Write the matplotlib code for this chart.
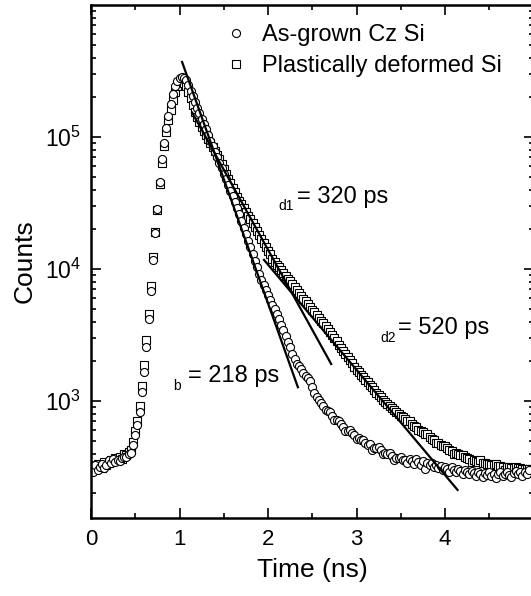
import matplotlib
matplotlib.use("Agg")
import matplotlib.pyplot as plt
from matplotlib.ticker import LogLocator, MultipleLocator, NullFormatter

plt.rcParams['font.family'] = ['Liberation Sans', 'DejaVu Sans']

# time channels (ns)
time_ns = [
    0.000, 0.025, 0.050, 0.075, 0.100, 0.125, 0.150, 0.175, 0.200, 0.225,
    0.250, 0.275, 0.300, 0.325, 0.350, 0.375, 0.400, 0.425, 0.450, 0.475,
    0.500, 0.525, 0.550, 0.575, 0.600, 0.625, 0.650, 0.675, 0.700, 0.725,
    0.750, 0.775, 0.800, 0.825, 0.850, 0.875, 0.900, 0.925, 0.950, 0.975,
    1.000, 1.025, 1.050, 1.075, 1.100, 1.125, 1.150, 1.175, 1.200, 1.225,
    1.250, 1.275, 1.300, 1.325, 1.350, 1.375, 1.400, 1.425, 1.450, 1.475,
    1.500, 1.525, 1.550, 1.575, 1.600, 1.625, 1.650, 1.675, 1.700, 1.725,
    1.750, 1.775, 1.800, 1.825, 1.850, 1.875, 1.900, 1.925, 1.950, 1.975,
    2.000, 2.025, 2.050, 2.075, 2.100, 2.125, 2.150, 2.175, 2.200, 2.225,
    2.250, 2.275, 2.300, 2.325, 2.350, 2.375, 2.400, 2.425, 2.450, 2.475,
    2.500, 2.525, 2.550, 2.575, 2.600, 2.625, 2.650, 2.675, 2.700, 2.725,
    2.750, 2.775, 2.800, 2.825, 2.850, 2.875, 2.900, 2.925, 2.950, 2.975,
    3.000, 3.025, 3.050, 3.075, 3.100, 3.125, 3.150, 3.175, 3.200, 3.225,
    3.250, 3.275, 3.300, 3.325, 3.350, 3.375, 3.400, 3.425, 3.450, 3.475,
    3.500, 3.525, 3.550, 3.575, 3.600, 3.625, 3.650, 3.675, 3.700, 3.725,
    3.750, 3.775, 3.800, 3.825, 3.850, 3.875, 3.900, 3.925, 3.950, 3.975,
    4.000, 4.025, 4.050, 4.075, 4.100, 4.125, 4.150, 4.175, 4.200, 4.225,
    4.250, 4.275, 4.300, 4.325, 4.350, 4.375, 4.400, 4.425, 4.450, 4.475,
    4.500, 4.525, 4.550, 4.575, 4.600, 4.625, 4.650, 4.675, 4.700, 4.725,
    4.750, 4.775, 4.800, 4.825, 4.850, 4.875, 4.900, 4.925, 4.950,
]

# as-grown Cz Si (circles)
counts_asgrown = [
    330, 290, 325, 300, 315, 335, 310, 330, 355, 340,
    365, 345, 360, 350, 372, 380, 378, 395, 407, 468,
    556, 653, 832, 1175, 1660, 2570, 4170, 6760, 11750, 18600,
    28500, 45700, 67600, 90200, 117500, 144000, 178600, 210000, 243000, 266000,
    280000, 286000, 281000, 268000, 248000, 224000, 204000, 184000, 166000, 152000,
    138000, 126000, 114000, 103500, 94000, 85300, 77400, 70300, 63800, 57900,
    52600, 47800, 43400, 39100, 35500, 32200, 29200, 26000, 23200, 20500,
    18300, 16300, 14600, 13000, 11600, 10300, 9180, 8320, 7590, 6920,
    6310, 5780, 5350, 4940, 4570, 4170, 3780, 3430, 3110, 2820,
    2560, 2290, 2070, 1920, 1840, 1740, 1640, 1560, 1490, 1410,
    1270, 1160, 1080, 1020, 973, 923, 850, 841, 830, 776,
    720, 718, 705, 665, 640, 590, 596, 600, 568, 552,
    520, 522, 508, 510, 479, 466, 470, 425, 442, 437,
    445, 422, 400, 407, 398, 405, 383, 360, 372, 367,
    378, 360, 355, 340, 362, 350, 335, 365, 345, 330,
    352, 305, 338, 325, 342, 318, 330, 310, 322, 300,
    315, 305, 292, 318, 300, 288, 305, 295, 282, 300,
    290, 278, 296, 285, 272, 290, 280, 268, 285, 276,
    290, 270, 282, 262, 278, 288, 270, 280, 292, 275,
    268, 285, 295, 278, 288, 272, 290, 282, 298,
]

# plastically deformed Si (squares)
counts_deformed = [
    320, 310, 305, 335, 320, 310, 345, 330, 340, 360,
    350, 370, 355, 380, 365, 395, 390, 410, 427, 490,
    589, 708, 912, 1290, 1860, 2880, 4570, 7410, 12300, 19100,
    28200, 43700, 63100, 85100, 110000, 135000, 160000, 190500, 221000, 245000,
    260000, 264000, 258000, 243000, 221000, 197000, 174000, 155000, 141000, 130000,
    120000, 112000, 104000, 96400, 89500, 83600, 78000, 72800, 67600, 62400,
    57500, 52700, 48400, 44700, 41200, 38000, 35200, 33000, 30900, 29000,
    27200, 25400, 23800, 22200, 20800, 19500, 18200, 17000, 15800, 14800,
    13800, 12900, 12000, 11300, 10800, 10300, 9770, 9330, 8910, 8470,
    8050, 7660, 7280, 6920, 6580, 6270, 5970, 5690, 5420, 5180,
    4930, 4700, 4480, 4270, 4060, 3880, 3680, 3490, 3310, 3140,
    2980, 2830, 2680, 2540, 2400, 2270, 2150, 2030, 1930, 1820,
    1730, 1650, 1580, 1510, 1450, 1390, 1330, 1270, 1220, 1160,
    1110, 1070, 1020, 989, 955, 923, 891, 861, 832, 803,
    776, 755, 733, 711, 705, 671, 652, 634, 600, 597,
    581, 565, 565, 535, 520, 506, 478, 480, 468, 457,
    460, 437, 427, 418, 398, 402, 394, 387, 392, 375,
    370, 365, 348, 355, 351, 347, 355, 340, 337, 334,
    331, 329, 326, 332, 322, 320, 318, 300, 315, 314,
    312, 311, 318, 309, 309, 308, 307, 306, 305,
]

# fitted exponential lines (end points)
fit_b_t = [1.025, 2.342]
fit_b_c = [377000, 1250]
fit_d1_t = [1.138, 2.720]
fit_d1_c = [155500, 1875]
fit_d2_t = [1.947, 4.150]
fit_d2_c = [11900, 209]

fig = plt.figure(figsize=(5.31, 5.96), dpi=100)
ax = fig.add_axes([91 / 531, 78 / 596, 442.5 / 531, 513 / 596])

mk = dict(linestyle='none', mfc='white', mec='black', ms=5.8, mew=0.8)
h2, = ax.plot(time_ns, counts_deformed, marker='s', label='Plastically deformed Si', **mk)
h1, = ax.plot(time_ns, counts_asgrown, marker='o', label='As-grown Cz Si', **mk)

for tt, cc in [(fit_b_t, fit_b_c), (fit_d1_t, fit_d1_c), (fit_d2_t, fit_d2_c)]:
    ax.plot(tt, cc, color='black', lw=1.6, solid_capstyle='butt')

ax.set_yscale('log')
ax.set_xlim(0, 5)
ax.set_ylim(130, 1e6)
ax.set_xticks([0, 1, 2, 3, 4])
ax.xaxis.set_minor_locator(MultipleLocator(0.5))
ax.set_yticks([1e3, 1e4, 1e5])
ax.yaxis.set_minor_locator(LogLocator(base=10, subs=range(2, 10)))
ax.yaxis.set_minor_formatter(NullFormatter())

ax.tick_params(which='both', direction='in', top=True, right=True, width=1.2)
ax.tick_params(which='major', length=7)
ax.tick_params(which='minor', length=3.5)
ax.tick_params(axis='x', labelsize=16, pad=8)
ax.tick_params(axis='y', labelsize=16.5, pad=7)
for s in ax.spines.values():
    s.set_linewidth(1.8)

ax.set_xlabel('Time (ns)', fontsize=19, labelpad=6)
ax.set_ylabel('Counts', fontsize=19, labelpad=6)

ax.legend(handles=[h1, h2], loc='upper left', bbox_to_anchor=(0.300, 0.963),
          frameon=False, fontsize=17, handlelength=1.0, handletextpad=0.64,
          borderpad=0, borderaxespad=0, labelspacing=0.38, markerscale=1.0)

def note(x_sub, y_sub, sub, x_main, y_main, main):
    fig.text(x_sub / 531, 1 - y_sub / 596, sub, fontsize=10, va='baseline', ha='left')
    fig.text(x_main / 531, 1 - y_main / 596, main, fontsize=17, va='baseline', ha='left')

note(278, 210, 'd1', 297, 203, '= 320 ps')
note(380, 342, 'd2', 398, 334, '= 520 ps')
note(173, 390, 'b', 188, 382, '= 218 ps')

fig.savefig('out.png', dpi=100)
